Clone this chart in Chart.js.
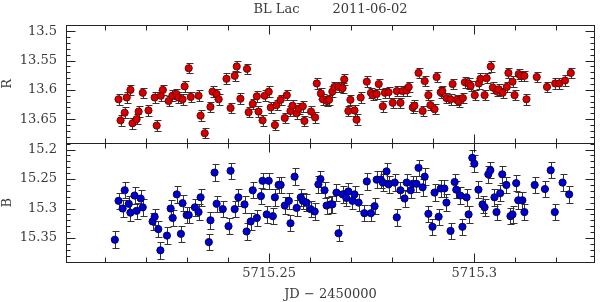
<!DOCTYPE html>
<html>
<head>
<meta charset="utf-8">
<script src="https://cdn.jsdelivr.net/npm/chart.js@4.4.0/dist/chart.umd.min.js"></script>
<style>
  html, body { margin: 0; padding: 0; background: #fff; }
  #wrap { width: 600px; height: 302px; position: relative; }
</style>
</head>
<body>
<div id="wrap"><canvas id="lc"></canvas></div>
<script>
// R band light curve (JD - 2450000, mag)
const jdR = [
  5715.2133, 5715.2138, 5715.2148, 5715.2153, 5715.2162, 5715.2167, 5715.2177, 5715.2182, 5715.2192, 5715.2206,
  5715.2221, 5715.2226, 5715.2236, 5715.2241, 5715.2255, 5715.2264, 5715.2274, 5715.2279, 5715.2289, 5715.2294,
  5715.2304, 5715.2309, 5715.2328, 5715.2333, 5715.2343, 5715.2357, 5715.2362, 5715.2372, 5715.2377, 5715.2396,
  5715.2406, 5715.2416, 5715.2421, 5715.2430, 5715.2446, 5715.2450, 5715.2460, 5715.2470, 5715.2474, 5715.2484,
  5715.2489, 5715.2499, 5715.2504, 5715.2514, 5715.2518, 5715.2528, 5715.2538, 5715.2543, 5715.2552, 5715.2557,
  5715.2567, 5715.2572, 5715.2582, 5715.2586, 5715.2602, 5715.2612, 5715.2616, 5715.2626, 5715.2631, 5715.2641,
  5715.2646, 5715.2654, 5715.2659, 5715.2669, 5715.2679, 5715.2683, 5715.2693, 5715.2698, 5715.2708, 5715.2713,
  5715.2723, 5715.2738, 5715.2748, 5715.2752, 5715.2762, 5715.2767, 5715.2777, 5715.2782, 5715.2791, 5715.2801,
  5715.2811, 5715.2820, 5715.2825, 5715.2835, 5715.2840, 5715.2850, 5715.2854, 5715.2864, 5715.2874, 5715.2879,
  5715.2888, 5715.2893, 5715.2903, 5715.2908, 5715.2918, 5715.2922, 5715.2932, 5715.2942, 5715.2947, 5715.2957,
  5715.2962, 5715.2972, 5715.2977, 5715.2986, 5715.2991, 5715.3001, 5715.3011, 5715.3015, 5715.3025, 5715.3030,
  5715.3040, 5715.3045, 5715.3054, 5715.3059, 5715.3069, 5715.3079, 5715.3083, 5715.3093, 5715.3098, 5715.3108,
  5715.3113, 5715.3122, 5715.3127, 5715.3152, 5715.3177, 5715.3197, 5715.3207, 5715.3221, 5715.3235
];
const magR = [
  13.616, 13.652, 13.639, 13.613, 13.600, 13.657, 13.650, 13.637, 13.605, 13.635,
  13.613, 13.661, 13.610, 13.600, 13.619, 13.610, 13.607, 13.613, 13.616, 13.594,
  13.563, 13.612, 13.610, 13.644, 13.674, 13.629, 13.603, 13.607, 13.616, 13.581,
  13.631, 13.576, 13.560, 13.615, 13.564, 13.638, 13.624, 13.611, 13.637, 13.652,
  13.610, 13.603, 13.630, 13.660, 13.626, 13.617, 13.648, 13.609, 13.636, 13.627,
  13.640, 13.632, 13.628, 13.653, 13.637, 13.647, 13.589, 13.606, 13.616, 13.619,
  13.617, 13.603, 13.595, 13.595, 13.597, 13.582, 13.636, 13.617, 13.635, 13.651,
  13.613, 13.586, 13.605, 13.609, 13.607, 13.590, 13.628, 13.605, 13.604, 13.622,
  13.602, 13.622, 13.602, 13.601, 13.595, 13.630, 13.627, 13.571, 13.636, 13.585,
  13.609, 13.626, 13.633, 13.578, 13.604, 13.602, 13.614, 13.616, 13.590, 13.617,
  13.620, 13.614, 13.587, 13.589, 13.593, 13.609, 13.589, 13.581, 13.609, 13.580,
  13.560, 13.596, 13.602, 13.599, 13.605, 13.595, 13.571, 13.586, 13.609, 13.573,
  13.576, 13.576, 13.616, 13.578, 13.595, 13.589, 13.589, 13.584, 13.571
];
// B band light curve
const jdB = [
  5715.2124, 5715.2133, 5715.2143, 5715.2148, 5715.2158, 5715.2162, 5715.2172, 5715.2177, 5715.2187, 5715.2192,
  5715.2216, 5715.2221, 5715.2230, 5715.2235, 5715.2251, 5715.2260, 5715.2265, 5715.2275, 5715.2285, 5715.2289,
  5715.2299, 5715.2304, 5715.2319, 5715.2328, 5715.2333, 5715.2353, 5715.2357, 5715.2367, 5715.2372, 5715.2387,
  5715.2401, 5715.2406, 5715.2416, 5715.2425, 5715.2440, 5715.2445, 5715.2455, 5715.2460, 5715.2470, 5715.2480,
  5715.2484, 5715.2494, 5715.2499, 5715.2509, 5715.2514, 5715.2523, 5715.2528, 5715.2538, 5715.2548, 5715.2552,
  5715.2562, 5715.2567, 5715.2577, 5715.2582, 5715.2591, 5715.2601, 5715.2611, 5715.2620, 5715.2625, 5715.2635,
  5715.2640, 5715.2650, 5715.2654, 5715.2664, 5715.2669, 5715.2679, 5715.2688, 5715.2693, 5715.2703, 5715.2708,
  5715.2718, 5715.2732, 5715.2738, 5715.2748, 5715.2757, 5715.2762, 5715.2772, 5715.2777, 5715.2786, 5715.2791,
  5715.2806, 5715.2811, 5715.2820, 5715.2830, 5715.2835, 5715.2845, 5715.2850, 5715.2859, 5715.2864, 5715.2874,
  5715.2879, 5715.2888, 5715.2898, 5715.2903, 5715.2913, 5715.2918, 5715.2927, 5715.2932, 5715.2942, 5715.2952,
  5715.2956, 5715.2966, 5715.2971, 5715.2981, 5715.2986, 5715.2995, 5715.3000, 5715.3010, 5715.3020, 5715.3025,
  5715.3034, 5715.3039, 5715.3049, 5715.3054, 5715.3063, 5715.3068, 5715.3078, 5715.3088, 5715.3093, 5715.3102,
  5715.3107, 5715.3117, 5715.3122, 5715.3147, 5715.3172, 5715.3186, 5715.3196, 5715.3215, 5715.3231
];
const magB = [
  15.353, 15.287, 15.300, 15.269, 15.292, 15.307, 15.278, 15.304, 15.283, 15.298,
  15.322, 15.314, 15.335, 15.371, 15.346, 15.300, 15.316, 15.276, 15.343, 15.291,
  15.311, 15.311, 15.298, 15.306, 15.281, 15.357, 15.320, 15.239, 15.292, 15.301,
  15.330, 15.236, 15.301, 15.281, 15.293, 15.339, 15.322, 15.269, 15.316, 15.279,
  15.253, 15.310, 15.253, 15.313, 15.281, 15.260, 15.260, 15.295, 15.287, 15.325,
  15.246, 15.299, 15.281, 15.287, 15.290, 15.301, 15.305, 15.259, 15.250, 15.269,
  15.295, 15.293, 15.293, 15.273, 15.342, 15.276, 15.282, 15.271, 15.287, 15.276,
  15.290, 15.308, 15.254, 15.308, 15.296, 15.251, 15.251, 15.256, 15.237, 15.259,
  15.256, 15.315, 15.269, 15.283, 15.256, 15.269, 15.258, 15.258, 15.231, 15.264,
  15.246, 15.309, 15.331, 15.273, 15.314, 15.266, 15.266, 15.290, 15.338, 15.255,
  15.268, 15.278, 15.331, 15.281, 15.310, 15.214, 15.224, 15.268, 15.293, 15.298,
  15.242, 15.235, 15.281, 15.306, 15.274, 15.242, 15.260, 15.313, 15.310, 15.257,
  15.286, 15.286, 15.306, 15.260, 15.267, 15.235, 15.306, 15.256, 15.276
];
const errR = 0.009;
const errB = 0.014;

// tick labels
const xTickLabels = [5715.25, 5715.3];
const rTickLabels = [13.5, 13.55, 13.6, 13.65];
const bTickLabels = [15.2, 15.25, 15.3, 15.35];

Chart.defaults.font.family = "'DejaVu Serif', 'Liberation Serif', serif";
Chart.defaults.font.size = 13;
Chart.defaults.color = "#3a3a3a";

const toPts = (xs, ys) => xs.map((x, i) => ({ x: x, y: ys[i] }));
const fmt = (v) => String(parseFloat(Number(v).toFixed(3)));

// vertical error bars with small caps, drawn under the markers
const errorBars = {
  id: "errorBars",
  beforeDatasetsDraw(chart) {
    const ctx = chart.ctx;
    ctx.save();
    ctx.strokeStyle = "#333";
    ctx.lineWidth = 1;
    chart.data.datasets.forEach((ds, i) => {
      const meta = chart.getDatasetMeta(i);
      const ys = chart.scales[ds.yAxisID];
      meta.data.forEach((pt, j) => {
        const v = ds.data[j].y;
        const x = Math.round(pt.x) + 0.5;
        const y1 = Math.round(ys.getPixelForValue(v - ds.err)) + 0.5;
        const y2 = Math.round(ys.getPixelForValue(v + ds.err)) + 0.5;
        ctx.beginPath();
        ctx.moveTo(x, y1);
        ctx.lineTo(x, y2);
        ctx.moveTo(x - 3, y1);
        ctx.lineTo(x + 4, y1);
        ctx.moveTo(x - 3, y2);
        ctx.lineTo(x + 4, y2);
        ctx.stroke();
      });
    });
    ctx.restore();
  },
};

// box around each panel with inward ticks on all four sides
const frame = {
  id: "frame",
  afterDraw(chart) {
    const { ctx, chartArea: a, scales } = chart;
    const xs = scales.x;
    ctx.save();
    ctx.strokeStyle = "#222";
    ctx.lineWidth = 1;
    const line = (x1, y1, x2, y2) => {
      ctx.beginPath();
      ctx.moveTo(x1, y1);
      ctx.lineTo(x2, y2);
      ctx.stroke();
    };
    ["yR", "yB"].forEach((id) => {
      const s = scales[id];
      const top = Math.round(s.top) + 0.5;
      const bot = Math.round(s.bottom) + 0.5;
      const l = Math.round(a.left) + 0.5;
      const r = Math.round(a.right) - 0.5;
      ctx.strokeRect(l, top, r - l, bot - top);
      for (let k = 20; k <= 33; k++) {
        const v = 5715 + k / 100;
        if (v < xs.min || v > xs.max) continue;
        const px = Math.round(xs.getPixelForValue(v)) + 0.5;
        const len = k % 5 === 0 ? 9 : 5;
        line(px, top, px, top + len);
        line(px, bot, px, bot - len);
      }
      const k0 = Math.ceil(s.min * 100);
      const k1 = Math.floor(s.max * 100);
      for (let k = k0; k <= k1; k++) {
        const py = Math.round(s.getPixelForValue(k / 100)) + 0.5;
        const len = k % 5 === 0 ? 9 : 4;
        line(l, py, l + len, py);
        line(r, py, r - len, py);
      }
    });
    ctx.restore();
  },
};

const yScale = (min, max, labels, title) => ({
  type: "linear",
  position: "left",
  stack: "mag",
  stackWeight: 1,
  reverse: true,
  min: min,
  max: max,
  grid: { display: false, drawTicks: false },
  border: { display: false },
  afterBuildTicks: (s) => { s.ticks = labels.map((v) => ({ value: v })); },
  afterFit: (s) => { s.width = 66; },
  ticks: { padding: 9, callback: (v) => fmt(v) },
  title: { display: true, text: title, padding: { top: 0, bottom: 0 } },
});

const config = {
  type: "scatter",
  data: {
    datasets: [
      {
        label: "R",
        data: toPts(jdR, magR),
        err: errR,
        yAxisID: "yR",
        pointRadius: 3.6,
        pointBorderWidth: 1,
        backgroundColor: "#d40000",
        borderColor: "#7a0000",
      },
      {
        label: "B",
        data: toPts(jdB, magB),
        err: errB,
        yAxisID: "yB",
        pointRadius: 3.6,
        pointBorderWidth: 1,
        backgroundColor: "#0000cc",
        borderColor: "#00006e",
      },
    ],
  },
  options: {
    responsive: true,
    maintainAspectRatio: false,
    animation: false,
    devicePixelRatio: 1,
    layout: { padding: { left: 0, right: 3, top: 0, bottom: 0 } },
    plugins: {
      legend: { display: false },
      tooltip: { enabled: false },
      title: {
        display: true,
        fullSize: false,
        text: "BL Lac        2011-06-02",
        font: { size: 13, weight: "normal" },
        color: "#3a3a3a",
        padding: { top: 2, bottom: 7 },
      },
    },
    scales: {
      x: {
        type: "linear",
        min: 5715.2005,
        max: 5715.3294,
        grid: { display: false, drawTicks: false },
        border: { display: false },
        afterBuildTicks: (s) => { s.ticks = xTickLabels.map((v) => ({ value: v })); },
        afterFit: (s) => { s.height = 40; },
        ticks: { padding: 4, maxRotation: 0, autoSkip: false, callback: (v) => fmt(v) },
        title: { display: true, text: "JD \u2212 2450000", padding: { top: 2, bottom: 0 } },
      },
      yB: yScale(15.1893, 15.3908, bTickLabels, "B"),
      yR: yScale(13.4885, 13.6912, rTickLabels, "R"),
    },
  },
  plugins: [errorBars, frame],
};

new Chart(document.getElementById("lc"), config);
</script>
</body>
</html>
